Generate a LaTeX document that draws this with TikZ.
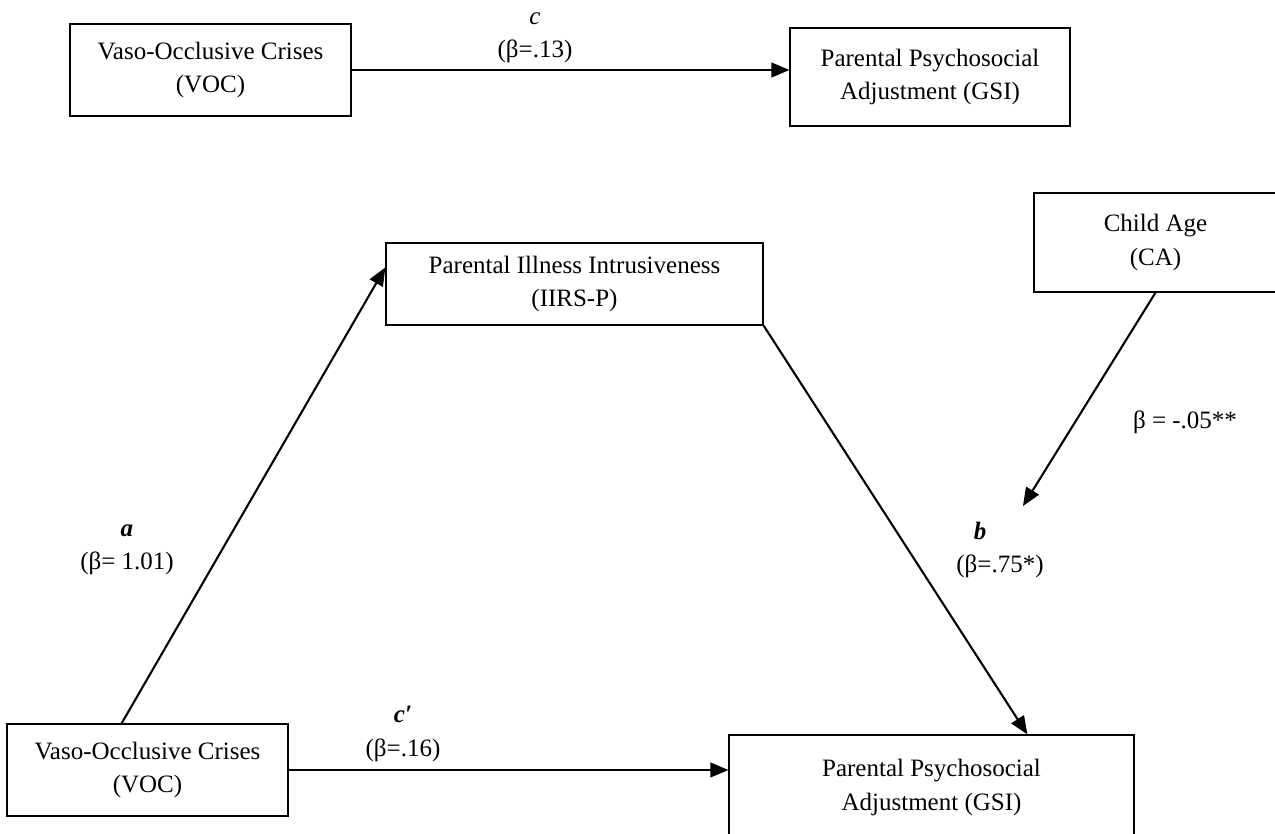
\documentclass[tikz,border=0pt]{standalone}
\usepackage{fontspec}
\setmainfont{Liberation Serif}
\usetikzlibrary{arrows,positioning}

\begin{document}
\begin{tikzpicture}
[x=0.48pt,y=-0.48pt,
 box/.style={rectangle,draw=black!100,semithick,align=center,inner
    sep=0pt,font=\fontsize{12}{16}\selectfont},
 lbl/.style={align=center,inner sep=0pt,font=\fontsize{12}{16}\selectfont},
 link/.style={line width=1pt,-triangle 45}]
\useasboundingbox (0,0) rectangle (1275,834);

% total effect
\node[box,minimum width=134.9pt,minimum height=44.2pt] (voc1) at (210.5,70) {Vaso-Occlusive Crises\\(VOC)};
\node[box,minimum width=134.4pt,minimum height=47pt] (gsi1) at (930,77) {Parental Psychosocial\\Adjustment (GSI)};
\node[lbl] (c) at (535,38) {\textit{c}\\(β=.13)};

\draw [link] (voc1.east) -- (voc1.east -| gsi1.west);

% mediation model
\node[box,minimum width=116.6pt,minimum height=47.5pt] (ca) at (1155.5,242.5) {Child Age\\(CA)};
\node[box,minimum width=181pt,minimum height=39.4pt] (iirs) at (574.5,284) {Parental Illness Intrusiveness\\(IIRS-P)};
\node[box,minimum width=134.9pt,minimum height=44.2pt] (voc2) at (147.5,770) {Vaso-Occlusive Crises\\(VOC)};
\node[box,minimum width=194.4pt,minimum height=50.4pt] (gsi2) at (931.5,787.5) {Parental Psychosocial\\Adjustment (GSI)};
\coordinate (catip) at (1023,506);

\node[lbl] (a) at (127,550) {\textbf{\textit{a}}\\(β= 1.01)};
\node[lbl] (b) at (1000,550) {\textbf{\textit{b}}\hspace*{1.6em}\\(β=.75*)};
\node[lbl] (cp) at (403,734) {\textbf{\textit{c′}}\\(β=.16)};
\node[lbl] (beta) at (1185,422) {β = -.05**};

\draw [link] (voc2.119) -- (iirs.175);
\draw [link] (iirs.south east) -- (gsi2.29);
\draw [link] (voc2.east) -- (voc2.east -| gsi2.west);
\draw [link] (ca.south) -- (catip);
\end{tikzpicture}
\end{document}
